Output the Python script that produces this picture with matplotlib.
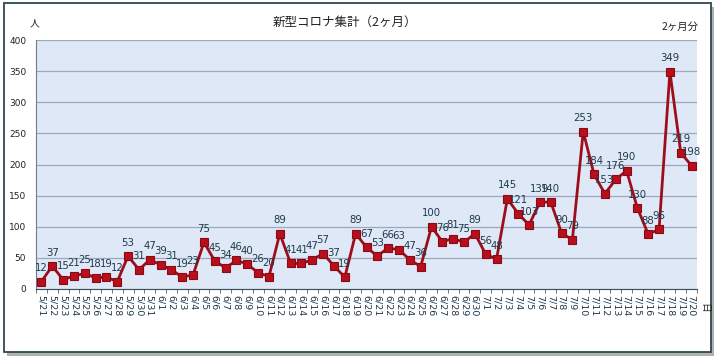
import matplotlib
matplotlib.use("Agg")
import matplotlib.pyplot as plt
from matplotlib.patches import Rectangle
from matplotlib.ticker import FixedLocator

plt.rcParams['font.family'] = ['DejaVu Sans', 'Noto Sans CJK JP']

dates = (["5/%d" % d for d in range(21, 32)] +
         ["6/%d" % d for d in range(1, 31)] +
         ["7/%d" % d for d in range(1, 21)])
cases = [12, 37, 15, 21, 25, 18, 19, 12, 53, 31, 47,
         39, 31, 19, 23, 75, 45, 34, 46, 40, 26, 20, 89, 41, 41, 47, 57, 37, 19, 89,
         67, 53, 66, 63, 47, 36, 100, 76, 81, 75, 89,
         56, 48, 145, 121, 103, 139, 140, 90, 79, 253, 184, 153, 176, 190, 130, 88, 96, 349, 219, 198]
yticks = [0, 50, 100, 150, 200, 250, 300, 350, 400]

W, H = 720, 357
fig = plt.figure(figsize=(W / 100, H / 100), dpi=100)
fig.patch.set_facecolor('white')

# outer frame with shadow
fig.patches.append(Rectangle((7 / W, 1 - 356 / H), 707 / W, 349 / H, transform=fig.transFigure,
                             facecolor='#b0b0b0', edgecolor='none', zorder=0))
fig.patches.append(Rectangle((4 / W, 1 - 352 / H), 707 / W, 349 / H, transform=fig.transFigure,
                             facecolor='white', edgecolor='#2e4a4f', linewidth=1.3, zorder=1))

left, right, top, bottom = 36, 697, 40, 289
ax = fig.add_axes([left / W, 1 - bottom / H, (right - left) / W, (bottom - top) / H])
ax.set_zorder(2)
ax.set_facecolor('#dfe8f7')

x = list(range(len(dates)))
ax.plot(x, cases, color='#9e0e1a', linewidth=2.0, marker='s', markersize=6.2,
        markerfacecolor='#b80f1d', markeredgecolor='#8a0a14', markeredgewidth=0.8, zorder=3)
for xi, v in zip(x, cases):
    ax.annotate(str(v), (xi, v), xytext=(0, 6), textcoords='offset points',
                ha='center', va='bottom', fontsize=7.3, color='#1d3a4a', zorder=4)

ax.set_xlim(-0.5, len(dates) - 0.5)
ax.set_ylim(0, 400)
ax.set_yticks(yticks)
ax.yaxis.grid(True, color='#98aabb', linewidth=0.9)
ax.set_axisbelow(True)
ax.tick_params(axis='y', length=0, labelsize=6.5, colors='#222222', pad=7)

ax.set_xticks(x)
ax.set_xticklabels(dates, rotation=-90, fontsize=6.8, color='#1d3a4a')
ax.tick_params(axis='x', which='major', length=0, pad=4)
ax.xaxis.set_minor_locator(FixedLocator([i - 0.5 for i in range(len(dates) + 1)]))
ax.tick_params(axis='x', which='minor', length=3, color='#4a5f6a', direction='out')

for s in ['top', 'right']:
    ax.spines[s].set_visible(False)
ax.spines['left'].set_color('#6a7f8a')
ax.spines['bottom'].set_color('#3a4f5a')

fig.text(345 / W, 1 - 22 / H, '新型コロナ集計（2ヶ月）', ha='center', va='center',
         fontsize=9, family=['Noto Sans CJK JP', 'DejaVu Sans'], color='#222222')
fig.text(35 / W, 1 - 23 / H, '人', ha='center', va='center', fontsize=7,
         family=['Noto Sans CJK JP', 'DejaVu Sans'], color='#222222')
fig.text(680 / W, 1 - 27 / H, '2ヶ月分', ha='center', va='center', fontsize=7.5,
         family=['Noto Sans CJK JP', 'DejaVu Sans'], color='#222222')
fig.text(704 / W, 1 - 308 / H, '日', ha='center', va='center', fontsize=7, rotation=-90,
         family=['Noto Sans CJK JP', 'DejaVu Sans'], color='#222222')

fig.savefig('out.png', dpi=100)
